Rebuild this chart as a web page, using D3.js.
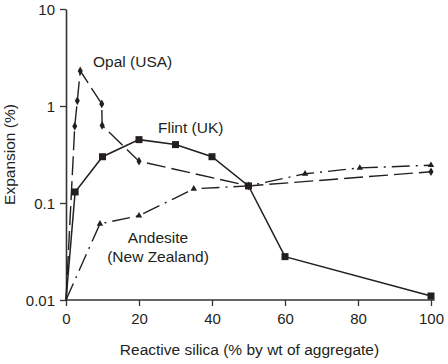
<!DOCTYPE html>
<html>
<head>
<meta charset="utf-8">
<script src="https://cdn.jsdelivr.net/npm/d3@7"></script>
<style>
  html, body { margin: 0; padding: 0; background: #fff; }
  svg { display: block; }
  text { font-family: "Liberation Sans", Arial, Helvetica, sans-serif; fill: #231f20; }
</style>
</head>
<body>
<svg id="chart" width="448" height="364"></svg>
<script>
// ---- data ----
const xTicks = [0, 20, 40, 60, 80, 100];
const yTicks = [0.01, 0.1, 1, 10];
const yTickLabels = ["0.01", "0.1", "1", "10"];

const flintX = [0, 2.5, 10, 20, 30, 40, 50, 60, 100];
const flintY = [0.01, 0.13, 0.3, 0.45, 0.4, 0.3, 0.15, 0.028, 0.011];

const opalX = [0, 2.4, 3.1, 3.9, 9.8, 9.9, 20, 50, 100];
const opalY = [0.01, 0.62, 1.13, 2.3, 1.05, 0.63, 0.27, 0.15, 0.21];

const andesiteX = [0, 9.3, 20, 35, 50, 65.5, 80.5, 100];
const andesiteY = [0.01, 0.061, 0.074, 0.14, 0.15, 0.2, 0.23, 0.245];

const seriesNames = ["Opal (USA)", "Flint (UK)", "Andesite", "(New Zealand)"];
const xTitle = "Reactive silica (% by wt of aggregate)";
const yTitle = "Expansion (%)";

// ---- drawing ----
const svg = d3.select("#chart");
const ink = "#231f20";
const x = d3.scaleLinear().domain([0, 100]).range([66, 431]);
const y = d3.scaleLog().domain([0.01, 10]).range([300, 9]);

const zip = (xs, ys) => xs.map((v, i) => ({x: v, y: ys[i]}));
const flint = zip(flintX, flintY);
const opal = zip(opalX, opalY);
const andesite = zip(andesiteX, andesiteY);

// axes
const xAxis = d3.axisBottom(x).tickValues(xTicks).tickSize(6).tickPadding(4).tickSizeOuter(0);
const yAxis = d3.axisLeft(y).tickValues(yTicks).tickSize(6).tickPadding(4).tickSizeOuter(0)
  .tickFormat((d, i) => yTickLabels[i]);

const gx = svg.append("g").attr("transform", "translate(0,300)").call(xAxis);
gx.select(".domain").attr("d", `M${x(0)},0H${x(101)}`);
const gy = svg.append("g").attr("transform", "translate(66,0)").call(yAxis);

[gx, gy].forEach(g => {
  g.selectAll(".domain").attr("stroke", "#333").attr("stroke-width", 1.6);
  g.selectAll(".tick line").attr("stroke", "#333").attr("stroke-width", 1.3);
  g.selectAll(".tick text").attr("fill", ink).style("font-size", "15px")
    .style("font-family", "'Liberation Sans', Arial, sans-serif");
});
gx.selectAll(".tick text").attr("dy", "0.9em");
gy.selectAll(".tick text").attr("dx", "-1").attr("dy", "0.36em");

// axis titles
svg.append("text").attr("x", (x(0) + x(100)) / 2 + 1).attr("y", 355)
  .attr("text-anchor", "middle").style("font-size", "15.5px").text(xTitle);
svg.append("text").attr("transform", `translate(15,${(y(10) + y(0.01)) / 2}) rotate(-90)`)
  .attr("text-anchor", "middle").style("font-size", "15.5px").text(yTitle);

const line = d3.line().x(d => x(d.x)).y(d => y(d.y));

// lines
svg.append("path").datum(opal).attr("d", line)
  .attr("fill", "none").attr("stroke", ink).attr("stroke-width", 1.4)
  .attr("stroke-dasharray", "19,6");
svg.append("path").datum(andesite).attr("d", line)
  .attr("fill", "none").attr("stroke", ink).attr("stroke-width", 1.4)
  .attr("stroke-dasharray", "18,6,2,6");
svg.append("path").datum(flint).attr("d", line)
  .attr("fill", "none").attr("stroke", ink).attr("stroke-width", 1.5);

// markers
const sym = (type, size) => d3.symbol().type(type).size(size)();
svg.append("g").selectAll("path").data(opal.filter(d => d.x > 0)).join("path")
  .attr("transform", d => `translate(${x(d.x)},${y(d.y)})`)
  .attr("d", sym(d3.symbolDiamond, 22)).attr("fill", ink);
svg.append("g").selectAll("path").data(andesite.filter(d => d.x > 0)).join("path")
  .attr("transform", d => `translate(${x(d.x)},${y(d.y)})`)
  .attr("d", sym(d3.symbolTriangle, 18)).attr("fill", ink);
svg.append("g").selectAll("path").data(flint.filter(d => d.x > 0)).join("path")
  .attr("transform", d => `translate(${x(d.x)},${y(d.y)})`)
  .attr("d", sym(d3.symbolSquare, 49)).attr("fill", ink);

// series labels
svg.append("text").attr("x", 93).attr("y", 67).style("font-size", "15.5px").text(seriesNames[0]);
svg.append("text").attr("x", 158).attr("y", 133).style("font-size", "15.5px").text(seriesNames[1]);
svg.append("text").attr("x", 158).attr("y", 243).attr("text-anchor", "middle").style("font-size", "15.5px").text(seriesNames[2]);
svg.append("text").attr("x", 158).attr("y", 262).attr("text-anchor", "middle").style("font-size", "15.5px").text(seriesNames[3]);
</script>
</body>
</html>
